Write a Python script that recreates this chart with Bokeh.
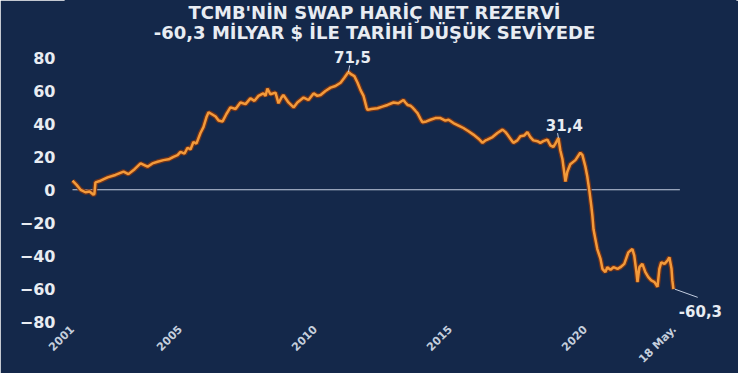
import math
from bokeh.plotting import figure
from bokeh.models import FixedTicker, Label, Range1d
from bokeh.embed import file_html
from bokeh.resources import INLINE

# ---- data ----
years = [2001.00, 2001.15, 2001.30, 2001.48, 2001.63, 2001.78, 2001.81, 2001.85, 2002.04, 2002.30,
         2002.59, 2002.89, 2003.07, 2003.30, 2003.52, 2003.78, 2003.96, 2004.15, 2004.37, 2004.56,
         2004.74, 2004.89, 2005.00, 2005.15, 2005.26, 2005.37, 2005.48, 2005.59, 2005.74, 2005.85,
         2005.96, 2006.04, 2006.15, 2006.30, 2006.41, 2006.56, 2006.70, 2006.85, 2007.04, 2007.22,
         2007.41, 2007.59, 2007.74, 2007.89, 2008.07, 2008.15, 2008.22, 2008.33, 2008.52, 2008.63,
         2008.74, 2008.81, 2009.00, 2009.19, 2009.33, 2009.56, 2009.74, 2009.93, 2010.07, 2010.19,
         2010.37, 2010.56, 2010.74, 2010.93, 2011.07, 2011.22, 2011.33, 2011.44, 2011.56, 2011.67,
         2011.78, 2011.89, 2011.93, 2012.07, 2012.30, 2012.48, 2012.67, 2012.89, 2013.07, 2013.26,
         2013.33, 2013.41, 2013.52, 2013.59, 2013.70, 2013.78, 2013.89, 2013.96, 2014.11, 2014.26,
         2014.44, 2014.63, 2014.81, 2014.93, 2015.11, 2015.30, 2015.48, 2015.67, 2015.85, 2016.04,
         2016.19, 2016.30, 2016.37, 2016.56, 2016.74, 2016.93, 2017.04, 2017.11, 2017.22, 2017.33,
         2017.48, 2017.59, 2017.74, 2017.85, 2017.96, 2018.07, 2018.22, 2018.33, 2018.44, 2018.59,
         2018.70, 2018.81, 2018.89, 2019.00, 2019.07, 2019.15, 2019.26, 2019.33, 2019.44, 2019.63,
         2019.81, 2019.89, 2020.00, 2020.07, 2020.15, 2020.22, 2020.26, 2020.30, 2020.37, 2020.44,
         2020.56, 2020.63, 2020.74, 2020.81, 2020.93, 2021.04, 2021.19, 2021.30, 2021.44, 2021.59,
         2021.74, 2021.81, 2021.89, 2021.93, 2022.00, 2022.11, 2022.22, 2022.33, 2022.44, 2022.56,
         2022.67, 2022.74, 2022.81, 2022.93, 2023.04, 2023.11, 2023.19, 2023.22, 2023.26]
reserve = [5.5, 3, 0, -1.5, -1, -3, -2.5, 4.5, 5.5, 7.5,
           9, 11, 9.5, 12.5, 16, 14, 16, 17, 18, 18.5,
           20, 21, 23, 22, 25.5, 24.5, 29, 28, 34.5, 38,
           44, 47, 46, 44.5, 42, 41.5, 46, 50, 49, 53,
           52, 55.5, 54, 57, 58.5, 57, 61.5, 58, 59, 52.5,
           56, 57.5, 53, 50, 53, 56, 54.5, 58.5, 57, 57.5,
           60, 62, 63, 65, 68, 71.5, 70, 69, 65, 60.5,
           57, 50, 48.5, 49, 49.5, 50.5, 51.5, 53, 52.5, 54.5,
           53, 51.5, 51, 50, 48, 46.5, 43, 41, 41.5, 42.5,
           43.5, 43.5, 42, 42.5, 40.5, 39, 37.5, 35.5, 33.5, 31,
           28.5, 30, 30.5, 32, 34.5, 36.5, 35, 33.5, 31, 28.5,
           30, 32.5, 33, 35, 32, 30, 29.5, 28.5, 29.5, 30.5,
           27, 26, 28, 31.4, 24, 18.5, 5, 11, 15.5, 18,
           22.5, 21, 14, 8, -1, -10, -16, -24, -30, -36,
           -42, -48, -50, -47, -48.5, -47, -48, -47, -45, -38,
           -36, -40, -50, -56, -47, -45, -50, -53, -55, -56,
           -59, -48, -44, -45, -43, -41, -48, -55, -60.3]

x_tick_pos = [2001, 2005, 2010, 2015, 2020, 2023.3]
x_tick_labels = ["2001", "2005", "2010", "2015", "2020", "18 May."]
y_ticks = [-80, -60, -40, -20, 0, 20, 40, 60, 80]
title1 = "TCMB'NİN SWAP HARİÇ NET REZERVİ"
title2 = "-60,3 MİLYAR $ İLE TARİHİ DÜŞÜK SEVİYEDE"
peak_label, mid_label, last_label = "71,5", "31,4", "-60,3"

BG = "#14284a"
TXT = "#e8ecf2"
FONT = "DejaVu Sans"

# frame spans from the very top of the canvas (heading drawn inside it)
p = figure(width=738, height=373, output_backend="svg", toolbar_location=None,
           x_range=Range1d(2000.74, 2025.56), y_range=Range1d(-83.6, 114.9),
           min_border_left=65, min_border_right=3, min_border_top=0, min_border_bottom=43)
p.title.visible = False
p.background_fill_color = BG
p.border_fill_color = BG
p.outline_line_color = BG
p.outline_line_width = 2
p.grid.visible = False

# two-line heading, screen units relative to the frame (frame is 330 px high)
for txt, sy in [(title1, 315), (title2, 295)]:
    p.add_layout(Label(x=309, y=sy, x_units="screen", y_units="screen", text=txt,
                       text_align="center", text_baseline="middle", text_color=TXT,
                       text_font=FONT, text_font_size="18px", text_font_style="bold"))

# zero line
p.line([years[0], 2023.5], [0, 0], line_color="#c3cde0", line_width=1.1)

# line with darker halo
p.line(years, reserve, line_color="#7a3414", line_width=5, line_alpha=0.9)
p.line(years, reserve, line_color="#f39a3a", line_width=2.5)

# axes
p.yaxis.ticker = FixedTicker(ticks=y_ticks)
p.yaxis.axis_line_color = None
p.yaxis.major_tick_line_color = None
p.yaxis.minor_tick_line_color = None
p.yaxis.major_label_text_color = TXT
p.yaxis.major_label_text_font = FONT
p.yaxis.major_label_text_font_size = "16px"
p.yaxis.major_label_text_font_style = "bold"
p.yaxis.major_label_standoff = 10
p.yaxis.major_tick_out = 0

p.xaxis.ticker = FixedTicker(ticks=x_tick_pos)
p.xaxis.major_label_overrides = {t: l for t, l in zip(x_tick_pos, x_tick_labels)}
p.xaxis.axis_line_color = None
p.xaxis.major_tick_line_color = None
p.xaxis.minor_tick_line_color = None
p.xaxis.major_label_orientation = math.pi / 4
p.xaxis.major_label_text_color = "#c5cfdd"
p.xaxis.major_label_text_font = FONT
p.xaxis.major_label_text_font_size = "11px"
p.xaxis.major_label_text_font_style = "bold"
p.xaxis.major_label_standoff = 0
p.xaxis.major_tick_out = 0

# annotations
i_peak = reserve.index(max(reserve))
i_mid = reserve.index(31.4)
i_last = len(reserve) - 1

def leader(x0, y0, x1, y1):
    p.line([x0, x1], [y0, y1], line_color="#c3cde0", line_width=1)

leader(years[i_peak], reserve[i_peak], years[i_peak] + 0.05, reserve[i_peak] + 4)
leader(years[i_mid], reserve[i_mid], years[i_mid] - 0.03, reserve[i_mid] + 3)
leader(years[i_last] + 0.05, reserve[i_last], years[i_last] + 0.9, reserve[i_last] - 5)

for txt, xx, yy in [(peak_label, years[i_peak] + 0.15, reserve[i_peak] + 8.8),
                    (mid_label, years[i_mid] + 0.22, reserve[i_mid] + 8),
                    (last_label, years[i_last] + 1.0, reserve[i_last] - 13.4)]:
    p.add_layout(Label(x=xx, y=yy, text=txt, text_align="center", text_baseline="middle",
                       text_color=TXT, text_font=FONT, text_font_size="15px",
                       text_font_style="bold"))

open("out.html", "w").write(file_html(p, INLINE))
